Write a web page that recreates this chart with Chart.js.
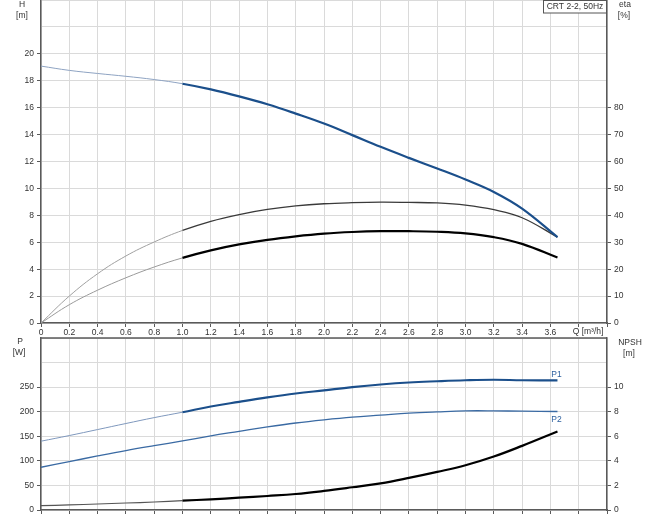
<!DOCTYPE html>
<html>
<head>
<meta charset="utf-8">
<script src="https://cdn.jsdelivr.net/npm/chart.js@4/dist/chart.umd.min.js"></script>
<style>
  html, body { margin: 0; padding: 0; background: #fff; }
  #wrap { position: relative; width: 655px; height: 517px; overflow: hidden; }
  canvas { position: absolute; left: 0; }
  #top { top: 0; }
  #bot { top: 330px; }
</style>
</head>
<body>
<div id="wrap">
  <canvas id="top" width="655" height="345"></canvas>
  <canvas id="bot" width="655" height="187"></canvas>
</div>
<script>
// ---- data ----
const Q      = [0, 0.2, 0.4, 0.6, 0.8, 1.0, 1.2, 1.4, 1.6, 1.8, 2.0, 2.2, 2.4, 2.6, 2.8, 3.0, 3.2, 3.4, 3.65];
const H      = [19.09, 18.77, 18.54, 18.33, 18.09, 17.78, 17.36, 16.84, 16.25, 15.56, 14.82, 13.96, 13.09, 12.27, 11.48, 10.66, 9.74, 8.50, 6.38];
const ETA_P  = [0, 10.0, 18.3, 24.9, 30.1, 34.4, 37.8, 40.3, 42.2, 43.5, 44.3, 44.7, 44.9, 44.8, 44.6, 43.8, 42.1, 39.1, 31.9];
const ETA_T  = [0, 6.8, 12.2, 16.8, 20.8, 24.2, 27.0, 29.2, 30.9, 32.2, 33.2, 33.8, 34.1, 34.1, 33.9, 33.3, 31.9, 29.4, 24.3];
const P1     = [140, 151.5, 163.7, 176, 188, 199, 210.6, 220, 229, 237, 243.5, 250, 255.4, 259.5, 262, 264, 265, 264, 263.6];
const P2     = [87, 98.5, 110, 121, 131, 140.6, 151, 160, 169, 177, 183.5, 189, 193, 197, 199.7, 201.8, 201.8, 201, 200.4];
const NPSH   = [0.35, 0.41, 0.49, 0.57, 0.65, 0.76, 0.87, 1.00, 1.14, 1.30, 1.55, 1.85, 2.17, 2.61, 3.10, 3.64, 4.35, 5.22, 6.39];
const Q_MAX_LABEL = 3.6;
const H_MAX_LABEL = 20, ETA_MAX_LABEL = 80, P_MAX_LABEL = 250, NPSH_MAX_LABEL = 10;
const TITLE = 'CRT 2-2, 50Hz';

const FONT = "'Liberation Sans', Arial, sans-serif";
const FS = 8.5;
const TXT = '#333';
const GRID = '#dadada';
const AXIS = '#5a5a5a';

const pts = arr => Q.map((q, i) => ({x: q, y: arr[i]}));
const split = (thin, thick, wThin, wThick) => ({
  borderColor: c => c.p0.parsed.x < 0.999 ? thin : thick,
  borderWidth: c => c.p0.parsed.x < 0.999 ? wThin : wThick
});

function fitY(w) {
  return s => { s.width = w; s.paddingTop = 0; s.paddingBottom = 0; };
}
function fitX(h) {
  return s => { s.height = h; s.paddingLeft = 0; s.paddingRight = 0; };
}
const tickFont = {family: FONT, size: FS};

function xScale(showLabels, h) {
  return {
    type: 'linear', position: 'bottom', min: 0, max: 4,
    afterFit: fitX(h),
    ticks: {
      stepSize: 0.2, autoSkip: false, maxRotation: 0, padding: 1,
      font: tickFont, color: TXT,
      callback: v => {
        if (!showLabels) return '';
        const r = Math.round(v * 10) / 10;
        if (r === 0) return '0';
        return r <= Q_MAX_LABEL + 1e-9 ? r.toFixed(1) : '';
      }
    },
    grid: { color: GRID, lineWidth: 1, tickLength: 4, tickColor: AXIS },
    border: { color: AXIS, width: 1.5 }
  };
}
function yScale(pos, max, step, maxLabel, width, grid) {
  return {
    type: 'linear', position: pos, min: 0, max: max,
    afterFit: fitY(width),
    ticks: {
      stepSize: step, padding: 3, font: tickFont, color: TXT,
      callback: v => v <= maxLabel + 1e-9 ? String(v) : ''
    },
    grid: {
      drawOnChartArea: grid, color: GRID, lineWidth: 1, tickLength: 4,
      tickColor: c => (c.tick && c.tick.value <= maxLabel + 1e-9) ? AXIS : 'rgba(0,0,0,0)'
    },
    border: { color: AXIS, width: 1.5 }
  };
}

function textPlugin(items, extra) {
  return {
    id: 'txt' + Math.random().toString(36).slice(2),
    afterDraw(chart) {
      const ctx = chart.ctx;
      ctx.save();
      if (extra) extra(chart, ctx);
      ctx.font = FS + 'px ' + FONT;
      ctx.textAlign = 'center';
      ctx.textBaseline = 'middle';
      items(chart).forEach(t => {
        ctx.fillStyle = t.color || TXT;
        ctx.fillText(t.text, t.x, t.y);
      });
      ctx.restore();
    }
  };
}

const common = {
  responsive: false, animation: false, devicePixelRatio: 1,
  plugins: { legend: { display: false }, tooltip: { enabled: false } },
  elements: { point: { radius: 0 }, line: { cubicInterpolationMode: 'default', tension: 0.4 } }
};

// ---- top chart: H and eta ----
new Chart(document.getElementById('top'), {
  type: 'line',
  data: {
    datasets: [
      { data: pts(H), yAxisID: 'yH', borderColor: '#1b4f8b', segment: split('#8ea3c2', '#1b4f8b', 1, 2.2) },
      { data: pts(ETA_P), yAxisID: 'yE', borderColor: '#333', segment: split('#a0a0a0', '#3a3a3a', 1, 1.3) },
      { data: pts(ETA_T), yAxisID: 'yE', borderColor: '#000', segment: split('#9a9a9a', '#000000', 1, 2.2) }
    ]
  },
  options: Object.assign({}, common, {
    layout: { padding: { top: 0, left: 0, right: 0, bottom: 0 } },
    scales: {
      x: xScale(true, 22),
      yH: yScale('left', 24, 2, H_MAX_LABEL, 41, true),
      yE: yScale('right', 120, 10, ETA_MAX_LABEL, 48, false)
    }
  }),
  plugins: [textPlugin(ch => [
    {text: 'H', x: 22, y: 5},
    {text: '[m]', x: 22, y: 16},
    {text: 'eta', x: 625, y: 5},
    {text: '[%]', x: 624, y: 16},
    {text: 'Q [m\u00B3/h]', x: 588, y: 332}
  ], (chart, ctx) => {
    ctx.fillStyle = '#fff';
    ctx.fillRect(543.5, 0.5, 63, 12.5);
    ctx.strokeStyle = '#555';
    ctx.lineWidth = 1;
    ctx.strokeRect(543.5, 0.5, 63, 12.5);
    ctx.font = FS + 'px ' + FONT;
    ctx.fillStyle = TXT;
    ctx.textAlign = 'center';
    ctx.textBaseline = 'middle';
    ctx.fillText(TITLE, 575, 7);
  })]
});

// ---- bottom chart: P1, P2, NPSH ----
new Chart(document.getElementById('bot'), {
  type: 'line',
  data: {
    datasets: [
      { data: pts(P1), yAxisID: 'yP', borderColor: '#1b4f8b', segment: split('#7f98bd', '#1b4f8b', 1, 2.2) },
      { data: pts(P2), yAxisID: 'yP', borderColor: '#3a6aa3', borderWidth: 1.3 },
      { data: pts(NPSH), yAxisID: 'yN', borderColor: '#000', segment: split('#555555', '#000000', 1.2, 2.2) }
    ]
  },
  options: Object.assign({}, common, {
    layout: { padding: { top: 8, left: 0, right: 0, bottom: 0 } },
    scales: {
      x: xScale(false, 7),
      yP: yScale('left', 350, 50, P_MAX_LABEL, 41, true),
      yN: yScale('right', 14, 2, NPSH_MAX_LABEL, 48, false)
    }
  }),
  plugins: [textPlugin(ch => {
    const xs = ch.scales.x, yp = ch.scales.yP;
    const qEnd = Q[Q.length - 1];
    return [
      {text: 'P', x: 20, y: 12},
      {text: '[W]', x: 19, y: 23},
      {text: 'NPSH', x: 630, y: 13},
      {text: '[m]', x: 629, y: 24},
      {text: 'P1', x: xs.getPixelForValue(qEnd) - 1, y: yp.getPixelForValue(P1[P1.length - 1]) - 6, color: '#2c5f9e'},
      {text: 'P2', x: xs.getPixelForValue(qEnd) - 1, y: yp.getPixelForValue(P2[P2.length - 1]) + 8, color: '#2c5f9e'}
    ];
  }, (chart, ctx) => {
    const a = chart.chartArea;
    ctx.strokeStyle = AXIS;
    ctx.lineWidth = 1.5;
    ctx.beginPath();
    ctx.moveTo(a.left, a.top);
    ctx.lineTo(a.right, a.top);
    ctx.stroke();
  })]
});
</script>
</body>
</html>
